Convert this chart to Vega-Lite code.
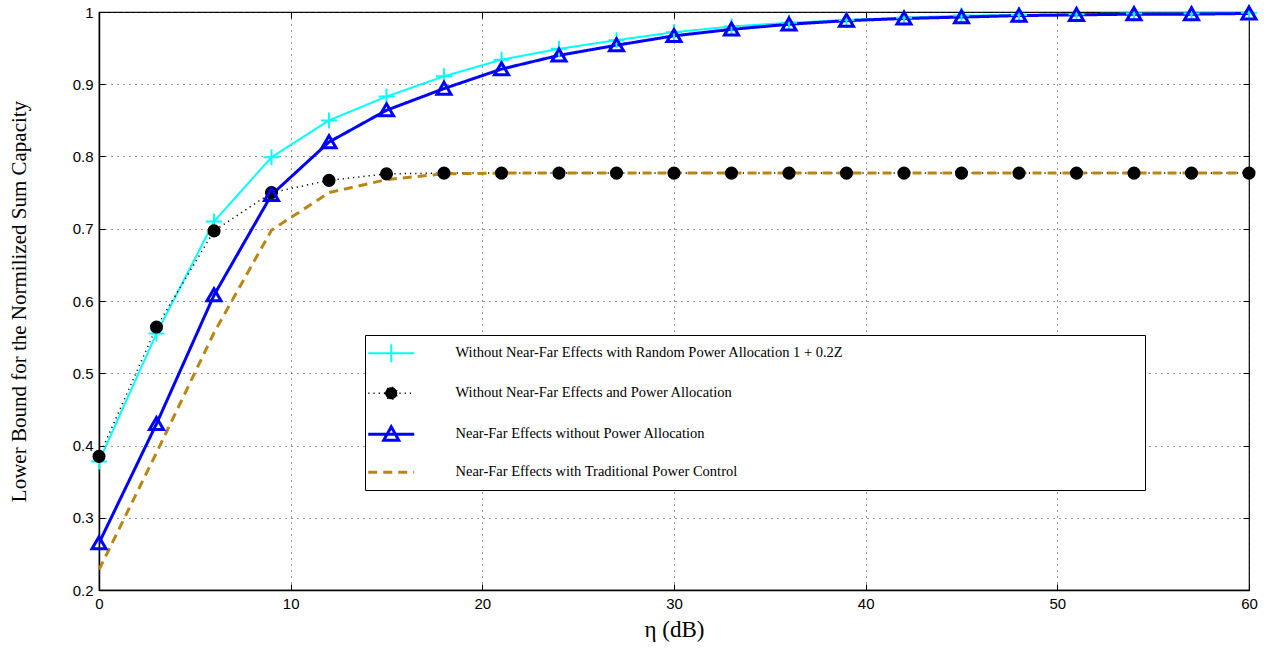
{
  "$schema": "https://vega.github.io/schema/vega-lite/v6.json",
  "autosize": {"type": "none"},
  "padding": {"left": 99, "top": 12, "right": 22, "bottom": 59},
  "width": 1150,
  "height": 578,
  "background": "white",
  "config": {
    "view": {"stroke": "black", "strokeWidth": 1.2},
    "axis": {
      "labelFont": "Liberation Sans",
      "labelFontSize": 15,
      "labelColor": "black",
      "titleFont": "Liberation Serif",
      "titleFontWeight": "normal",
      "titleColor": "black",
      "domainColor": "black",
      "domainWidth": 1.5,
      "tickColor": "black",
      "tickSize": -6,
      "gridColor": "#333",
      "gridDash": [1, 5],
      "gridWidth": 1
    }
  },
  "datasets": {
    "curves": [
      {"x": 0, "y": 0.378, "s": "A"}, {"x": 3, "y": 0.555, "s": "A"}, {"x": 6, "y": 0.710, "s": "A"}, {"x": 9, "y": 0.799, "s": "A"}, {"x": 12, "y": 0.850, "s": "A"}, {"x": 15, "y": 0.883, "s": "A"}, {"x": 18, "y": 0.911, "s": "A"}, {"x": 21, "y": 0.934, "s": "A"}, {"x": 24, "y": 0.949, "s": "A"}, {"x": 27, "y": 0.961, "s": "A"}, {"x": 30, "y": 0.972, "s": "A"}, {"x": 33, "y": 0.980, "s": "A"}, {"x": 36, "y": 0.985, "s": "A"}, {"x": 39, "y": 0.989, "s": "A"}, {"x": 42, "y": 0.992, "s": "A"}, {"x": 45, "y": 0.995, "s": "A"}, {"x": 48, "y": 0.996, "s": "A"}, {"x": 51, "y": 0.997, "s": "A"}, {"x": 54, "y": 0.998, "s": "A"}, {"x": 57, "y": 0.998, "s": "A"}, {"x": 60, "y": 0.999, "s": "A"},
      {"x": 0, "y": 0.385, "s": "B"}, {"x": 3, "y": 0.564, "s": "B"}, {"x": 6, "y": 0.697, "s": "B"}, {"x": 9, "y": 0.750, "s": "B"}, {"x": 12, "y": 0.767, "s": "B"}, {"x": 15, "y": 0.776, "s": "B"}, {"x": 18, "y": 0.777, "s": "B"}, {"x": 21, "y": 0.777, "s": "B"}, {"x": 24, "y": 0.777, "s": "B"}, {"x": 27, "y": 0.777, "s": "B"}, {"x": 30, "y": 0.777, "s": "B"}, {"x": 33, "y": 0.777, "s": "B"}, {"x": 36, "y": 0.777, "s": "B"}, {"x": 39, "y": 0.777, "s": "B"}, {"x": 42, "y": 0.777, "s": "B"}, {"x": 45, "y": 0.777, "s": "B"}, {"x": 48, "y": 0.777, "s": "B"}, {"x": 51, "y": 0.777, "s": "B"}, {"x": 54, "y": 0.777, "s": "B"}, {"x": 57, "y": 0.777, "s": "B"}, {"x": 60, "y": 0.777, "s": "B"},
      {"x": 0, "y": 0.265, "s": "C"}, {"x": 3, "y": 0.430, "s": "C"}, {"x": 6, "y": 0.608, "s": "C"}, {"x": 9, "y": 0.747, "s": "C"}, {"x": 12, "y": 0.820, "s": "C"}, {"x": 15, "y": 0.864, "s": "C"}, {"x": 18, "y": 0.894, "s": "C"}, {"x": 21, "y": 0.921, "s": "C"}, {"x": 24, "y": 0.940, "s": "C"}, {"x": 27, "y": 0.954, "s": "C"}, {"x": 30, "y": 0.967, "s": "C"}, {"x": 33, "y": 0.976, "s": "C"}, {"x": 36, "y": 0.983, "s": "C"}, {"x": 39, "y": 0.988, "s": "C"}, {"x": 42, "y": 0.991, "s": "C"}, {"x": 45, "y": 0.993, "s": "C"}, {"x": 48, "y": 0.995, "s": "C"}, {"x": 51, "y": 0.996, "s": "C"}, {"x": 54, "y": 0.997, "s": "C"}, {"x": 57, "y": 0.997, "s": "C"}, {"x": 60, "y": 0.998, "s": "C"},
      {"x": 0, "y": 0.228, "s": "D"}, {"x": 3, "y": 0.390, "s": "D"}, {"x": 6, "y": 0.556, "s": "D"}, {"x": 9, "y": 0.698, "s": "D"}, {"x": 12, "y": 0.750, "s": "D"}, {"x": 15, "y": 0.768, "s": "D"}, {"x": 18, "y": 0.776, "s": "D"}, {"x": 21, "y": 0.777, "s": "D"}, {"x": 24, "y": 0.777, "s": "D"}, {"x": 27, "y": 0.777, "s": "D"}, {"x": 30, "y": 0.777, "s": "D"}, {"x": 33, "y": 0.777, "s": "D"}, {"x": 36, "y": 0.777, "s": "D"}, {"x": 39, "y": 0.777, "s": "D"}, {"x": 42, "y": 0.777, "s": "D"}, {"x": 45, "y": 0.777, "s": "D"}, {"x": 48, "y": 0.777, "s": "D"}, {"x": 51, "y": 0.777, "s": "D"}, {"x": 54, "y": 0.777, "s": "D"}, {"x": 57, "y": 0.777, "s": "D"}, {"x": 60, "y": 0.777, "s": "D"}
    ]
  },
  "data": {"name": "curves"},
  "resolve": {"axis": {"x": "independent", "y": "independent"}},
  "layer": [
    {
      "mark": {"type": "line", "clip": true},
      "encoding": {
        "x": {
          "field": "x", "type": "quantitative",
          "scale": {"domain": [0, 60], "nice": false, "zero": false},
          "axis": {"values": [0, 10, 20, 30, 40, 50, 60], "title": "η (dB)", "titleFontSize": 23, "titlePadding": 7, "labelPadding": 12, "labelFlush": false}
        },
        "y": {
          "field": "y", "type": "quantitative",
          "scale": {"domain": [0.2, 1], "nice": false, "zero": false},
          "axis": {"values": [0.2, 0.3, 0.4, 0.5, 0.6, 0.7, 0.8, 0.9, 1], "format": "~g", "title": "Lower Bound for the Normilized Sum Capacity", "titleFontSize": 21, "titlePadding": 43, "labelPadding": 12, "labelFlush": false}
        },
        "color": {
          "field": "s", "type": "nominal",
          "scale": {"domain": ["A", "B", "C", "D"], "range": ["#00ffff", "#000000", "#0000ff", "#bb8516"]},
          "legend": {
            "orient": "none", "legendX": 266, "legendY": 323,
            "title": null,
            "strokeColor": "black", "fillColor": "white",
            "padding": 11,
            "symbolSize": 400, "symbolOffset": 8, "symbolStrokeWidth": 2,
            "labelOffset": 57, "rowPadding": 17,
            "labelFont": "Liberation Serif", "labelFontSize": 14.5, "labelColor": "black", "labelLimit": 0,
            "labelExpr": "datum.value === 'A' ? 'Without Near-Far Effects with Random Power Allocation 1 + 0.2Z' : datum.value === 'B' ? 'Without Near-Far Effects and Power Allocation' : datum.value === 'C' ? 'Near-Far Effects without Power Allocation' : 'Near-Far Effects with Traditional Power Control'",
            "encode": {
              "symbols": {
                "update": {
                  "shape": {"signal": "datum.value === 'A' ? 'M-2.3,0L2.3,0M0,-0.9L0,0.9M73.6,0' : datum.value === 'B' ? 'M-2.3,0L2.3,0M-0.6,0A0.6,0.6 0 1,0 0.6,0A0.6,0.6 0 1,0 -0.6,0ZM73.6,0' : datum.value === 'C' ? 'M-2.3,0L2.3,0M0,-0.75L0.75,0.6L-0.75,0.6ZM73.6,0' : 'M-2.3,0L2.3,0M73.6,0'"},
                  "fill": {"signal": "datum.value === 'B' ? 'black' : 'transparent'"},
                  "strokeDash": {"signal": "datum.value === 'B' ? [1, 4] : datum.value === 'D' ? [9, 6] : [1, 0]"},
                  "strokeWidth": {"signal": "datum.value === 'C' ? 3 : datum.value === 'B' ? 1.5 : datum.value === 'D' ? 3 : 2"}
                }
              }
            }
          }
        },
        "strokeDash": {
          "field": "s", "type": "nominal",
          "scale": {"domain": ["A", "B", "C", "D"], "range": [[1, 0], [1.2, 4], [1, 0], [9, 6]]},
          "legend": null
        },
        "strokeWidth": {
          "field": "s", "type": "nominal",
          "scale": {"type": "ordinal", "domain": ["A", "B", "C", "D"], "range": [2, 1.5, 3, 3]},
          "legend": null
        }
      }
    },
    {
      "transform": [{"filter": "datum.s !== 'D'"}],
      "mark": {"type": "point", "filled": true, "size": 64, "opacity": 1, "clip": false},
      "encoding": {
        "x": {
          "field": "x", "type": "quantitative",
          "axis": {"orient": "top", "values": [0, 10, 20, 30, 40, 50, 60], "labels": false, "title": null, "grid": false, "domain": false}
        },
        "y": {
          "field": "y", "type": "quantitative",
          "axis": {"orient": "right", "values": [0.2, 0.3, 0.4, 0.5, 0.6, 0.7, 0.8, 0.9, 1], "labels": false, "title": null, "grid": false, "domain": false}
        },
        "shape": {
          "field": "s", "type": "nominal",
          "scale": {"domain": ["A", "B", "C"], "range": ["M-2,0L2,0M0,-2L0,2", "M-1.45,0A1.45,1.45 0 1,0 1.45,0A1.45,1.45 0 1,0 -1.45,0Z", "M0,-1.6L1.75,1.4L-1.75,1.4Z"]},
          "legend": null
        },
        "stroke": {
          "field": "s", "type": "nominal",
          "scale": {"domain": ["A", "B", "C"], "range": ["#00ffff", "#000000", "#0000ff"]},
          "legend": null
        },
        "fill": {
          "field": "s", "type": "nominal",
          "scale": {"domain": ["A", "B", "C"], "range": ["transparent", "#000000", "transparent"]},
          "legend": null
        },
        "strokeWidth": {
          "field": "s", "type": "nominal",
          "scale": {"type": "ordinal", "domain": ["A", "B", "C"], "range": [2, 1, 2.5]},
          "legend": null
        }
      }
    }
  ]
}
